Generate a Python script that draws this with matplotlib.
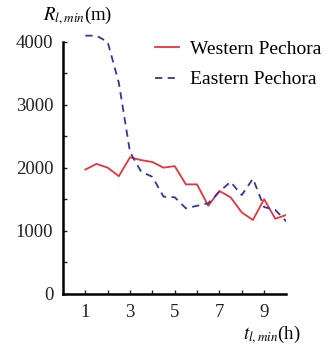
import matplotlib
matplotlib.use("Agg")
import matplotlib.pyplot as plt
from matplotlib.ticker import FixedLocator

plt.rcParams['font.family'] = ['Liberation Serif', 'DejaVu Serif']
plt.rcParams['mathtext.fontset'] = 'stix'

t = [1, 1.5, 2, 2.5, 3, 3.5, 4, 4.5, 5, 5.5, 6, 6.5, 7, 7.5, 8, 8.5, 9, 9.5, 10]
western = [1975, 2065, 2005, 1870, 2170, 2125, 2095, 2005, 2030, 1740, 1740,
           1400, 1635, 1535, 1295, 1175, 1505, 1195, 1255]
eastern = [4100, 4100, 4000, 3350, 2250, 1940, 1860, 1545, 1535, 1360, 1400,
           1440, 1625, 1780, 1570, 1830, 1380, 1335, 1150]
labels = ["Western Pechora", "Eastern Pechora"]
xticks = [1, 3, 5, 7, 9]
yticks = [0, 1000, 2000, 3000, 4000]

fig = plt.figure(figsize=(3.34, 3.52), dpi=100)
ax = fig.add_axes([0.1886, 0.1648, 0.669, 0.7428])

ax.plot(t, western, color='#e8333c', lw=1.3, label=labels[0])
ax.plot(t, eastern, color='#35359a', lw=1.3, ls=(0, (4, 3)), label=labels[1])

ax.set_xlim(0, 10)
ax.set_ylim(0, 4150)
for s in ['top', 'right']:
    ax.spines[s].set_visible(False)
ax.spines['left'].set_bounds(0, 4000)
ax.spines['left'].set_linewidth(1.8)
ax.spines['bottom'].set_linewidth(1.8)

ax.xaxis.set_major_locator(FixedLocator(xticks))
ax.xaxis.set_minor_locator(FixedLocator([2, 4, 6, 8]))
ax.yaxis.set_major_locator(FixedLocator(yticks))
ax.yaxis.set_minor_locator(FixedLocator([500, 1500, 2500, 3500]))
ax.tick_params(which='both', direction='in', length=3, width=1, labelsize=13.5,
               colors='#222222', pad=7)

fig.text(43 / 334, 1 - 16 / 352, r'$R_{l,min}$(m)', fontsize=13.5, va='center', ha='left')
fig.text(243 / 334, 1 - 335 / 352, r'$t_{l,min}$(h)', fontsize=13.5, va='center', ha='left')

ax.legend(frameon=False, fontsize=14, handlelength=1.25, handletextpad=0.55,
          labelspacing=0.68, loc='upper left',
          bbox_to_anchor=(155 / 334, 1 - 40 / 352), bbox_transform=fig.transFigure,
          borderaxespad=0, borderpad=0)

fig.savefig('out.png', dpi=100)
